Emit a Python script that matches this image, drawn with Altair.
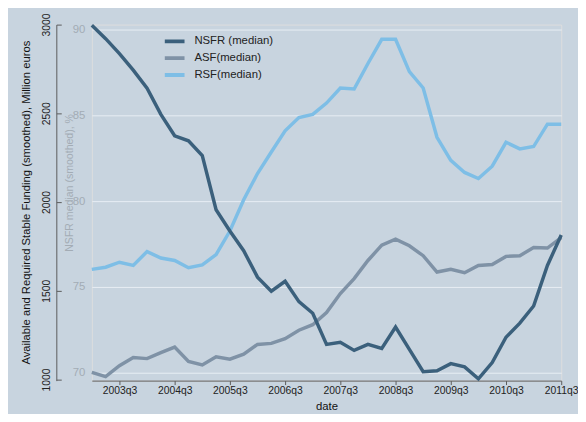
import altair as alt
import pandas as pd

quarters = [
    "2003q1", "2003q2", "2003q3", "2003q4", "2004q1", "2004q2", "2004q3", "2004q4",
    "2005q1", "2005q2", "2005q3", "2005q4", "2006q1", "2006q2", "2006q3", "2006q4",
    "2007q1", "2007q2", "2007q3", "2007q4", "2008q1", "2008q2", "2008q3", "2008q4",
    "2009q1", "2009q2", "2009q3", "2009q4", "2010q1", "2010q2", "2010q3", "2010q4",
    "2011q1", "2011q2", "2011q3",
]
nsfr_median = [
    90.25, 89.47, 88.6, 87.64, 86.59, 85.06, 83.81, 83.52, 82.66, 79.5,
    78.26, 77.11, 75.57, 74.75, 75.33, 74.14, 73.47, 71.65, 71.78, 71.3,
    71.65, 71.42, 72.66, 71.36, 70.06, 70.11, 70.53, 70.34, 69.64, 70.59,
    72.07, 72.89, 73.89, 76.25, 78.03,
]
asf_median = [
    1041, 1017, 1078, 1124, 1118, 1152, 1183, 1102, 1082, 1128,
    1115, 1143, 1198, 1204, 1230, 1278, 1309, 1378, 1485, 1569,
    1671, 1757, 1791, 1754, 1698, 1606, 1621, 1602, 1643, 1648,
    1694, 1698, 1744, 1741, 1800,
]
rsf_median = [
    1621, 1633, 1661, 1643, 1721, 1685, 1671, 1630, 1646, 1704,
    1837, 2013, 2161, 2282, 2402, 2476, 2494, 2558, 2643, 2637,
    2781, 2917, 2917, 2735, 2643, 2365, 2235, 2167, 2133, 2202,
    2337, 2300, 2313, 2439, 2439,
]
x_tick_values = [2003.5, 2004.5, 2005.5, 2006.5, 2007.5, 2008.5, 2009.5, 2010.5, 2011.5]
funding_ticks = [1000, 1500, 2000, 2500, 3000]
nsfr_ticks = [70, 75, 80, 85, 90]
series_names = ["NSFR (median)", "ASF(median)", "RSF(median)"]
series_colors = ["#3b607c", "#7f92a6", "#7ebee6"]

t = [int(q[:4]) + (int(q[5]) - 1) / 4 for q in quarters]
n = len(quarters)
df_funding = pd.DataFrame({
    "t": t + t,
    "value": asf_median + rsf_median,
    "series": [series_names[1]] * n + [series_names[2]] * n,
    "order": [1] * n + [2] * n,
})
df_nsfr = pd.DataFrame({"t": t, "value": nsfr_median, "series": series_names[0]})

FONT = "Liberation Sans"
PLOT_W = 476
PLOT_H = 361
OUTER_OFFSET = 36
FUNDING_DOMAIN = [994, 3000]

color = alt.Color(
    "series:N",
    scale=alt.Scale(domain=series_names, range=series_colors),
    legend=alt.Legend(
        title=None, orient="none", legendX=72, legendY=9.5, padding=0,
        symbolType="stroke", symbolSize=400, symbolStrokeWidth=4,
        labelFontSize=11.5, labelColor="#222222", labelFont=FONT,
        labelOffset=8, clipHeight=15, rowPadding=2,
    ),
)

x = alt.X(
    "t:Q", title="date",
    scale=alt.Scale(domain=[2003.0, 2011.5], nice=False, zero=False),
    axis=alt.Axis(
        values=x_tick_values, labelExpr="floor(datum.value) + 'q3'",
        labelFlush=False, labelOverlap=False, labelBound=False,
        grid=False, domainColor="#5a5a5a", tickColor="#5a5a5a", tickSize=4,
        labelFontSize=10.5, labelColor="#222222", labelPadding=1, labelFont=FONT,
        titleFontSize=11.5, titleFontWeight="normal", titleColor="#111111",
        titlePadding=5, titleFont=FONT,
    ),
)

funding = alt.Chart(df_funding).mark_line(strokeWidth=3.5).encode(
    x=x,
    y=alt.Y(
        "value:Q",
        scale=alt.Scale(domain=FUNDING_DOMAIN, nice=False, zero=False),
        axis=alt.Axis(
            orient="left", offset=OUTER_OFFSET, values=funding_ticks, format="d", grid=False,
            title="Available and Required Stable Funding (smoothed), Million euros",
            domainColor="#5a5a5a", tickColor="#5a5a5a", tickSize=0,
            labelAngle=270, labelAlign="center", labelBaseline="bottom",
            labelFlush=False, labelOverlap=False, labelBound=False,
            labelPadding=5, labelFontSize=10.5, labelColor="#222222", labelFont=FONT,
            titleFontSize=11.4, titleFontWeight="normal", titleColor="#111111",
            titleFont=FONT, titleAngle=270, titleAlign="center", titleBaseline="middle",
            titleX=-30, titleY=180,
        ),
    ),
    color=color,
    detail="series:N",
    order="order:Q",
)

# inward-pointing ticks of the outer funding axis
funding_ticks_layer = alt.Chart(df_funding).mark_line(strokeOpacity=0).encode(
    x=x,
    y=alt.Y(
        "value:Q",
        scale=alt.Scale(domain=FUNDING_DOMAIN, nice=False, zero=False),
        axis=alt.Axis(
            orient="right", offset=-(PLOT_W + OUTER_OFFSET), values=funding_ticks,
            domain=False, labels=False, grid=False, title=None,
            ticks=True, tickSize=5, tickColor="#5a5a5a",
        ),
    ),
    detail="series:N",
)

nsfr = alt.Chart(df_nsfr).mark_line(strokeWidth=3.5).encode(
    x=x,
    y=alt.Y(
        "value:Q",
        scale=alt.Scale(domain=[69.54, 90.29], nice=False, zero=False),
        axis=alt.Axis(
            orient="left", values=nsfr_ticks, domain=False, ticks=False,
            grid=True, gridColor="#e8eef4", gridWidth=1,
            labelFlush=False, labelOverlap=False,
            labelColor="#a3acb5", labelFontSize=11.5, labelPadding=7, labelFont=FONT,
            title="NSFR median (smoothed), %", titleColor="#a3acb5",
            titleFontSize=10.7, titleFontWeight="normal", titleFont=FONT,
            titleAngle=270, titleAlign="center", titleBaseline="middle",
            titleX=-23, titleY=160,
        ),
    ),
    color=color,
)

chart = alt.layer(funding, funding_ticks_layer, nsfr).resolve_scale(y="independent").properties(
    width=PLOT_W, height=PLOT_H,
    autosize=alt.AutoSizeParams(type="none"),
    padding={"left": 85, "top": 14, "right": 17, "bottom": 31},
    background="#c8d4df",
).configure_view(stroke=None).configure(font=FONT)

chart.save("out.html", embed_options={"renderer": "svg", "actions": False})
